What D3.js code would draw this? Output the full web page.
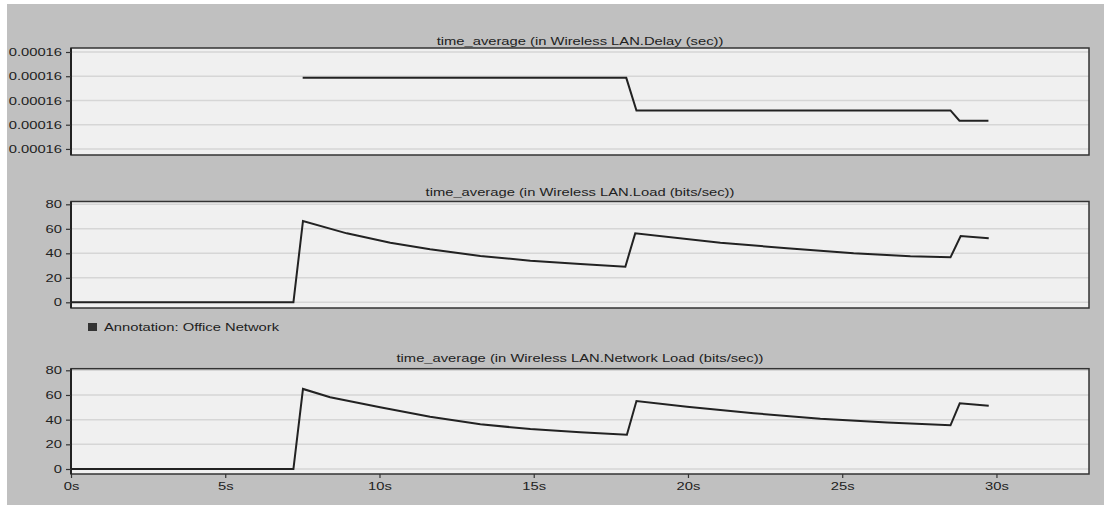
<!DOCTYPE html>
<html>
<head>
<meta charset="utf-8">
<script src="https://cdn.jsdelivr.net/npm/d3@7"></script>
<style>
  html, body { margin: 0; padding: 0; background: #ffffff; }
  svg { display: block; }
  text { font-family: "Liberation Sans", Arial, sans-serif; fill: #222; }
</style>
</head>
<body>
<svg id="chart" width="1104" height="505"></svg>
<script>
// ---------- data ----------
const xTickValues = [0, 5, 10, 15, 20, 25, 30];
const xDomain = [0, 33];

const titles = [
  "time_average (in Wireless LAN.Delay (sec))",
  "time_average (in Wireless LAN.Load (bits/sec))",
  "time_average (in Wireless LAN.Network Load (bits/sec))"
];
const annotationLabel = "Annotation: Office Network";

const delayTicks = [0.0001600, 0.0001601, 0.0001602, 0.0001603, 0.0001604];
const delayDomain = [0.000159975, 0.0001604165];
const delayTimes  = [7.51, 18.0, 18.33, 28.51, 28.8, 29.74];
const delayValues = [0.0001602934, 0.0001602934, 0.0001601588, 0.0001601588, 0.0001601163, 0.0001601163];

const loadTicks = [0, 20, 40, 60, 80];
const loadDomain = [-4.65, 82.3];
const loadTimes  = [0, 7.21, 7.52, 8.94, 10.35, 11.64, 13.27, 14.89, 16.51, 17.97, 18.29, 21.05, 23.21, 25.37, 27.21, 28.51, 28.84, 29.75];
const loadValues = [0, 0, 66.4, 56.3, 48.7, 43.3, 37.8, 34.0, 31.3, 29.1, 56.3, 48.7, 44.1, 40.0, 37.6, 36.7, 54.1, 52.2];

const netTicks = [0, 20, 40, 60, 80];
const netDomain = [-4.05, 81.3];
const netTimes  = [0, 7.21, 7.52, 8.40, 10.02, 11.64, 13.27, 14.89, 16.51, 18.02, 18.33, 19.97, 22.13, 24.29, 26.46, 28.51, 28.81, 29.75];
const netValues = [0, 0, 64.9, 58.1, 50.0, 42.4, 36.2, 32.4, 29.8, 27.8, 55.1, 50.5, 45.2, 40.8, 37.6, 35.4, 53.3, 51.3];

// ---------- layout ----------
const W = 1104, H = 505;
const left = 71, right = 1089;
const STRETCH = 1.34;

const svg = d3.select("#chart");
svg.append("rect").attr("x", 7).attr("y", 4).attr("width", W - 7).attr("height", H - 4).attr("fill", "#c0c0c0");

const x = d3.scaleLinear().domain(xDomain).range([left, right]);

function stretch(sel) {
  sel.each(function () {
    const w = this.getComputedTextLength();
    this.setAttribute("textLength", w * STRETCH);
    this.setAttribute("lengthAdjust", "spacingAndGlyphs");
  });
}

const panels = [
  { title: titles[0], top: 48, bottom: 155, titleY: 44.5, domain: delayDomain, ticks: delayTicks, fmt: d3.format(".5f"), t: delayTimes, v: delayValues, xAxis: false },
  { title: titles[1], top: 201.5, bottom: 308, titleY: 195.5, domain: loadDomain, ticks: loadTicks, fmt: d3.format("d"), t: loadTimes, v: loadValues, xAxis: false },
  { title: titles[2], top: 368.7, bottom: 474, titleY: 362, domain: netDomain, ticks: netTicks, fmt: d3.format("d"), t: netTimes, v: netValues, xAxis: true }
];

panels.forEach(p => {
  const y = d3.scaleLinear().domain(p.domain).range([p.bottom, p.top]);
  const g = svg.append("g");

  g.append("rect")
    .attr("x", left).attr("y", p.top)
    .attr("width", right - left).attr("height", p.bottom - p.top)
    .attr("fill", "#f0f0f0");

  // gridlines
  g.selectAll("line.grid").data(p.ticks).enter().append("line")
    .attr("class", "grid")
    .attr("x1", left).attr("x2", right)
    .attr("y1", d => y(d)).attr("y2", d => y(d))
    .attr("stroke", "#d6d6d6").attr("stroke-width", 1.5);

  // series line
  const pts = p.t.map((t, i) => [t, p.v[i]]);
  g.append("path")
    .datum(pts)
    .attr("fill", "none")
    .attr("stroke", "#222")
    .attr("stroke-width", 2)
    .attr("stroke-linejoin", "miter")
    .attr("d", d3.line().x(d => x(d[0])).y(d => y(d[1])));

  // frame
  g.append("rect")
    .attr("x", left).attr("y", p.top)
    .attr("width", right - left).attr("height", p.bottom - p.top)
    .attr("fill", "none").attr("stroke", "#333").attr("stroke-width", 1.5);
  g.append("line")
    .attr("x1", left).attr("x2", left).attr("y1", p.top).attr("y2", p.bottom)
    .attr("stroke", "#222").attr("stroke-width", 2);

  // y axis
  const ya = g.append("g")
    .attr("transform", `translate(${left},0)`)
    .call(d3.axisLeft(y).tickValues(p.ticks).tickFormat(p.fmt).tickSize(5).tickPadding(4));
  ya.select(".domain").remove();
  ya.selectAll(".tick line").attr("stroke", "#333").attr("stroke-width", 1.2);
  ya.selectAll(".tick text")
    .style("font-family", '"Liberation Sans", Arial, sans-serif')
    .attr("font-size", 11).attr("fill", "#333");
  stretch(ya.selectAll(".tick text"));

  // title
  const tt = g.append("text")
    .attr("x", (left + right) / 2).attr("y", p.titleY)
    .attr("text-anchor", "middle")
    .attr("font-size", 11)
    .text(p.title);
  stretch(tt);

  if (p.xAxis) {
    const xa = g.append("g")
      .attr("transform", `translate(0,${p.bottom})`)
      .call(d3.axisBottom(x).tickValues(xTickValues).tickFormat(d => d + "s").tickSize(4).tickPadding(4));
    xa.select(".domain").remove();
    xa.selectAll(".tick line").attr("stroke", "#333").attr("stroke-width", 1.2);
    xa.selectAll(".tick text")
      .style("font-family", '"Liberation Sans", Arial, sans-serif')
      .attr("font-size", 11).attr("fill", "#333");
    stretch(xa.selectAll(".tick text"));
  }
});

// annotation legend
svg.append("rect").attr("x", 88).attr("y", 323).attr("width", 9).attr("height", 8).attr("fill", "#333");
const an = svg.append("text").attr("x", 104).attr("y", 331).attr("font-size", 11).text(annotationLabel);
stretch(an);
</script>
</body>
</html>
